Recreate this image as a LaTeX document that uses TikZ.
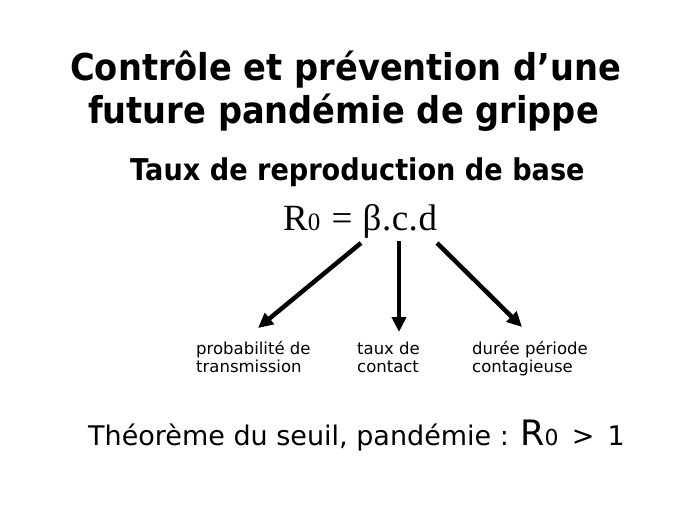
\documentclass[tikz,border=0pt]{standalone}
\usepackage{fontspec}
\setmainfont{DejaVu Sans}
\newfontfamily\serifeq{Liberation Serif}
\usetikzlibrary{arrows.meta}
\begin{document}
\begin{tikzpicture}[x=1pt,y=-1pt,
  txt/.style={inner sep=0pt,anchor=base west},
  titlefont/.style={font=\fontsize{37}{40}\selectfont\bfseries},
  subfont/.style={font=\fontsize{30}{34}\selectfont\bfseries},
  labfont/.style={font=\fontsize{16.5}{18}\selectfont,align=left},
  arr/.style={line width=4.5pt,-{Triangle[length=15pt,width=14pt]}}]
\useasboundingbox[fill=white] (0,0) rectangle (689,517);
\node[txt,titlefont] (t1) at (70,80) {\scalebox{0.91}[1]{Contrôle et prévention d’une}};
\node[txt,titlefont] (t2) at (88,123) {\scalebox{0.91}[1]{future pandémie de grippe}};
\node[txt,subfont] (t3) at (130,180) {\scalebox{0.905}[1]{Taux de reproduction de base}};
\node[txt,font=\serifeq\fontsize{37}{40}\selectfont] (eq) at (283,230) {R{\fontsize{25}{26}\selectfont 0}\hspace{2pt} = \hspace{1pt}β\hspace{0.5pt}.\hspace{0.5pt}c\hspace{0.5pt}.\hspace{0.5pt}d};
\node[txt,labfont] (l1) at (196,372) {probabilité de\\transmission};
\node[txt,labfont] (l2) at (357,372) {taux de\\contact};
\node[txt,labfont] (l3) at (472,372) {durée période\\contagieuse};
\node[txt,font=\fontsize{27}{30}\selectfont] (bt) at (88,445) {Théorème du seuil, pandémie : {\fontsize{35}{40}\selectfont R}{\fontsize{22}{24}\selectfont 0} \,>\, 1};
\coordinate (s1) at (361,243); \coordinate (e1) at (258,328);
\coordinate (s2) at (399,241); \coordinate (e2) at (399,332);
\coordinate (s3) at (437,243); \coordinate (e3) at (522,327);
\draw[arr] (s1) -- (e1);
\draw[arr] (s2) -- (e2);
\draw[arr] (s3) -- (e3);
\end{tikzpicture}
\end{document}
